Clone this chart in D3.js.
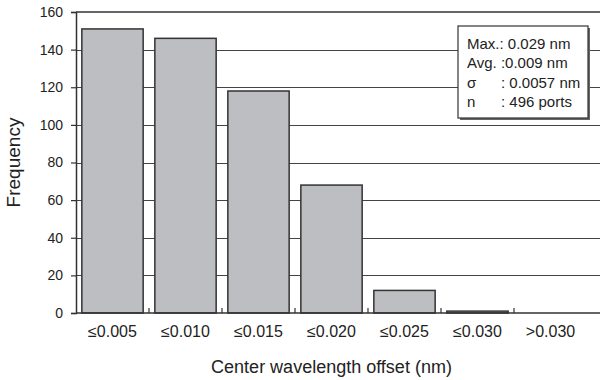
<!DOCTYPE html>
<html>
<head>
<meta charset="utf-8">
<script src="https://cdn.jsdelivr.net/npm/d3@7"></script>
<style>
  body { margin: 0; background: #fff; }
  svg text { font-family: "Liberation Sans", Arial, sans-serif; fill: #222; }
</style>
</head>
<body>
<div id="vis"></div>
<script>
// bins of center wavelength offset (nm)
var categories = ['≤0.005', '≤0.010', '≤0.015', '≤0.020', '≤0.025', '≤0.030', '>0.030'];
var frequency = [151, 146, 118, 68, 12, 1, 0];
var yTicks = [0, 20, 40, 60, 80, 100, 120, 140, 160];
var statLabels = ['Max.: 0.029 nm', 'Avg. :0.009 nm', 'σ', 'n'];
var statValues = ['', '', ': 0.0057 nm', ': 496 ports'];

var width = 600;
var height = 380;
var margin = { top: 12, left: 76, bottom: 67 };
var plotRight = 587;

var svg = d3.select('#vis').append('svg')
  .attr('width', width)
  .attr('height', height);

var x = d3.scaleBand()
  .domain(categories)
  .range([margin.left, plotRight])
  .paddingInner(0.16)
  .paddingOuter(0.08);

var y = d3.scaleLinear()
  .domain([0, 160])
  .range([height - margin.bottom, margin.top]);

// gridlines
svg.selectAll('.grid')
  .data(yTicks.filter(function (d) { return d > 0 && d < 160; }))
  .enter().append('line')
  .attr('class', 'grid')
  .attr('x1', margin.left)
  .attr('x2', width)
  .attr('y1', function (d) { return Math.round(y(d)) + 0.5; })
  .attr('y2', function (d) { return Math.round(y(d)) + 0.5; })
  .attr('stroke', '#444')
  .attr('stroke-width', 1.2);

// top border
svg.append('line')
  .attr('x1', margin.left).attr('x2', width)
  .attr('y1', y(160)).attr('y2', y(160))
  .attr('stroke', '#333').attr('stroke-width', 1.5);

// bars
svg.selectAll('.bar')
  .data(categories)
  .enter().append('rect')
  .attr('class', 'bar')
  .attr('x', function (d) { return x(d); })
  .attr('width', x.bandwidth())
  .attr('y', function (d, i) { return y(frequency[i]); })
  .attr('height', function (d, i) { return y(0) - y(frequency[i]); })
  .attr('fill', function (d, i) { return frequency[i] > 0 ? '#bdbec2' : 'none'; })
  .attr('stroke', function (d, i) { return frequency[i] > 0 ? '#333' : 'none'; })
  .attr('stroke-width', 1.5);

// y axis
var yAxis = svg.append('g')
  .attr('transform', 'translate(' + margin.left + ',0)')
  .call(d3.axisLeft(y).tickValues(yTicks).tickSize(5).tickPadding(8));
yAxis.select('.domain').attr('stroke', '#333').attr('stroke-width', 1.5);
yAxis.selectAll('.tick line').attr('stroke', '#333').attr('stroke-width', 1.2);
yAxis.selectAll('.tick text')
  .style('font-family', '"Liberation Sans", Arial, sans-serif')
  .style('font-size', '14px').attr('fill', '#222');

// x axis line
svg.append('line')
  .attr('x1', margin.left).attr('x2', width)
  .attr('y1', y(0)).attr('y2', y(0))
  .attr('stroke', '#333').attr('stroke-width', 1.5);

// tick marks between bins
var step = x.step();
svg.selectAll('.xtick')
  .data(categories.slice(1))
  .enter().append('line')
  .attr('class', 'xtick')
  .attr('x1', function (d) { return x(d) - step * x.paddingInner() / 2; })
  .attr('x2', function (d) { return x(d) - step * x.paddingInner() / 2; })
  .attr('y1', y(0))
  .attr('y2', y(0) - 5)
  .attr('stroke', '#333')
  .attr('stroke-width', 1.2);

// x labels
svg.selectAll('.xlabel')
  .data(categories)
  .enter().append('text')
  .attr('class', 'xlabel')
  .attr('x', function (d) { return x(d) + x.bandwidth() / 2; })
  .attr('y', y(0) + 24)
  .attr('text-anchor', 'middle')
  .style('font-size', '16px')
  .text(function (d) { return d; });

// axis titles
svg.append('text')
  .attr('x', (margin.left + plotRight) / 2)
  .attr('y', 373)
  .attr('text-anchor', 'middle')
  .style('font-size', '18px')
  .text('Center wavelength offset (nm)');

svg.append('text')
  .attr('transform', 'translate(20,' + (y(80)) + ') rotate(-90)')
  .attr('text-anchor', 'middle')
  .style('font-size', '19px')
  .text('Frequency');

// stats box
var box = { x: 458, y: 26, w: 130, h: 92 };
svg.append('rect')
  .attr('x', box.x + 2).attr('y', box.y + 2)
  .attr('width', box.w).attr('height', box.h)
  .attr('fill', '#666');
svg.append('rect')
  .attr('x', box.x).attr('y', box.y)
  .attr('width', box.w).attr('height', box.h)
  .attr('fill', '#fff')
  .attr('stroke', '#333')
  .attr('stroke-width', 1.2);

statLabels.forEach(function (d, i) {
  svg.append('text')
    .attr('x', box.x + 9)
    .attr('y', box.y + 23 + i * 19.3)
    .style('font-size', '15px')
    .text(d);
  if (statValues[i]) {
    svg.append('text')
      .attr('x', box.x + 43)
      .attr('y', box.y + 23 + i * 19.3)
      .style('font-size', '15px')
      .text(statValues[i]);
  }
});
</script>
</body>
</html>
